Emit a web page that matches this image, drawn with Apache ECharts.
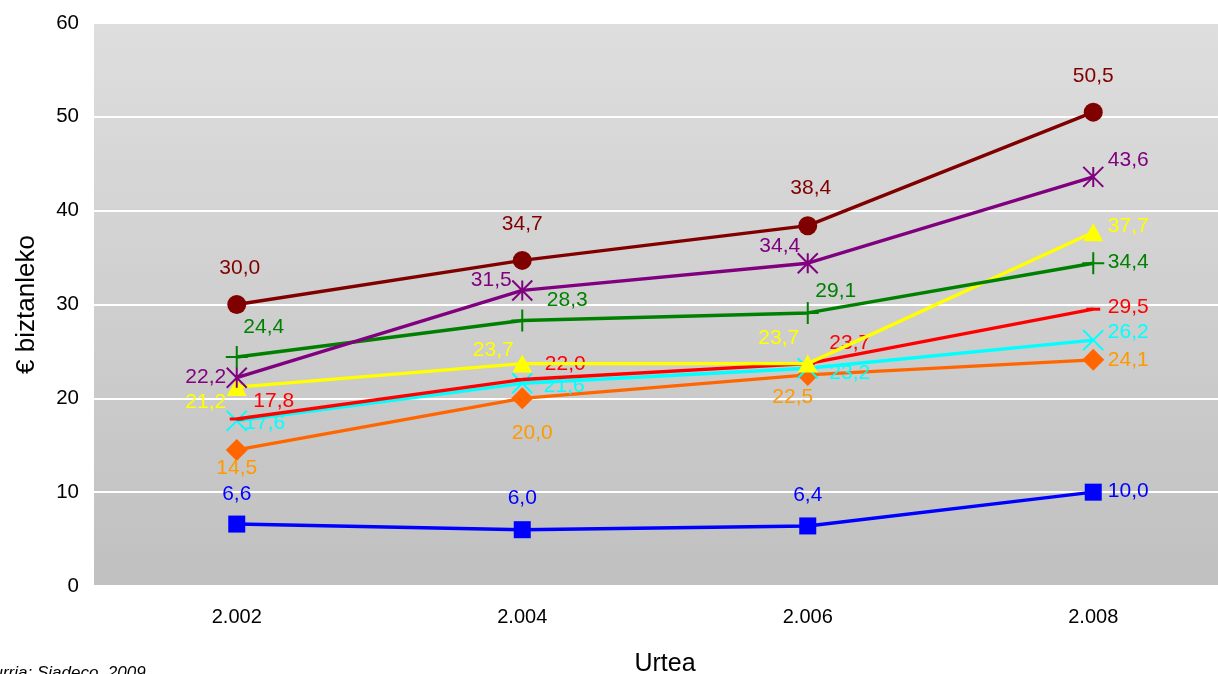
<!DOCTYPE html>
<html><head><meta charset="utf-8">
<script src="https://cdn.jsdelivr.net/npm/echarts@6/dist/echarts.min.js"></script>
<style>html,body{margin:0;padding:0;background:#fff;overflow:hidden}#c{width:1218px;height:674px}</style>
</head><body><div id="c"></div>
<script>
var categories = ['2.002', '2.004', '2.006', '2.008'];
var seriesNames = ['s1','s2','s3','s4','s5','s6','s7','s8'];
var darkRed = [30.0, 34.7, 38.4, 50.5];
var purple  = [22.2, 31.5, 34.4, 43.6];
var green   = [24.4, 28.3, 29.1, 34.4];
var yellow  = [21.2, 23.7, 23.7, 37.7];
var red     = [17.8, 22.0, 23.7, 29.5];
var cyan    = [17.6, 21.6, 23.2, 26.2];
var orange  = [14.5, 20.0, 22.5, 24.1];
var blue    = [6.6, 6.0, 6.4, 10.0];
var yTicks  = [0, 10, 20, 30, 40, 50, 60];

function fmt(v){ return v.toFixed(1).replace('.', ','); }

var ASTER = 'path://M0,0L10,10M10,0L0,10M5,0L5,10';
var PLUS = 'path://M5,0L5,10M0,5L10,5';
var XS = 'path://M0,0L10,10M10,0L0,10';
var FONT = 'Liberation Sans, Arial, sans-serif';

var defs = [
  {v: blue,    c:'#0000FF', lc:'#0000FF', sym:'rect', size:17, stroke:false,
   off:[[0,-30],[0,-31],[0,-31],[35,-1]]},
  {v: orange,  c:'#FF6600', lc:'#FF9900', sym:'diamond', size:[22,22], stroke:false,
   off:[[0,18],[10,35],[-15,22],[35,0]]},
  {v: cyan,    c:'#00FFFF', lc:'#00FFFF', sym:XS, size:[20,20], stroke:true,
   off:[[28,2],[42,3],[42,5],[35,-8]]},
  {v: red,     c:'#FF0000', lc:'#FF0000', sym:'rect', size:[14,3], stroke:false,
   off:[[37,-18],[43,-15],[42,-20],[35,-2]]},
  {v: yellow,  c:'#FFFF00', lc:'#FFFF00', sym:'triangle', size:[20,18], stroke:false,
   off:[[-31,15],[-29,-13],[-29,-25],[35,-6]]},
  {v: green,   c:'#008000', lc:'#008000', sym:PLUS, size:[22,22], stroke:true,
   off:[[27,-30],[45,-20],[28,-22],[35,-1]]},
  {v: purple,  c:'#800080', lc:'#800080', sym:ASTER, size:[20,20], stroke:true,
   off:[[-31,0],[-31,-10],[-28,-17],[35,-17]]},
  {v: darkRed, c:'#800000', lc:'#800000', sym:'circle', size:19, stroke:false,
   off:[[3,-36],[0,-36],[3,-37],[0,-36]]}
];

var series = defs.map(function(d, si){
  return {
    name: seriesNames[si],
    type: 'line',
    data: d.v.map(function(val, i){
      return {value: val, label: {offset: d.off[i]}};
    }),
    symbol: d.sym,
    symbolSize: d.size,
    showAllSymbol: true,
    lineStyle: {color: d.c, width: 3.4},
    itemStyle: d.stroke ? {color: 'rgba(0,0,0,0)', borderColor: d.c, borderWidth: 2}
                        : {color: d.c, borderWidth: 0},
    label: {show: true, position: 'inside', color: d.lc, fontSize: 21, fontFamily: FONT,
            formatter: function(p){ return fmt(p.value); }},
    emphasis: {disabled: true},
    animation: false,
    z: 2 + si
  };
});

var chart = echarts.init(document.getElementById('c'));
chart.setOption({
  animation: false,
  grid: {left: 94, top: 23, width: 1142, height: 563, show: true, borderWidth: 0,
    containLabel: false, outerBoundsMode: 'none',
    backgroundColor: {type:'linear', x:0, y:0, x2:0, y2:1,
      colorStops:[{offset:0, color:'#dedede'},{offset:1, color:'#c0c0c0'}]}},
  xAxis: {type: 'category', data: categories, boundaryGap: true,
    axisLine: {show: false}, axisTick: {show: false},
    axisLabel: {color:'#000', fontSize: 20, margin: 21, fontFamily: FONT},
    name: 'Urtea', nameLocation: 'middle', nameGap: 66,
    nameTextStyle: {color:'#000', fontSize: 25, fontFamily: FONT}},
  yAxis: {type: 'value', min: yTicks[0], max: yTicks[yTicks.length-1], interval: 10,
    axisLine: {show: false}, axisTick: {show: false},
    splitLine: {show: true, lineStyle: {color: '#ffffff', width: 2}},
    axisLabel: {color:'#000', fontSize: 20.5, margin: 15, fontFamily: FONT},
    name: '€ biztanleko', nameLocation: 'middle', nameGap: 54, nameRotate: 90,
    nameTextStyle: {color:'#000', fontSize: 26, fontFamily: FONT}},
  graphic: [{type: 'text', left: -16, top: 665,
    style: {text: 'Iturria: Siadeco, 2009', fill: '#000', font: 'italic 17px Liberation Sans, Arial, sans-serif'}}],
  series: series
});
</script></body></html>
